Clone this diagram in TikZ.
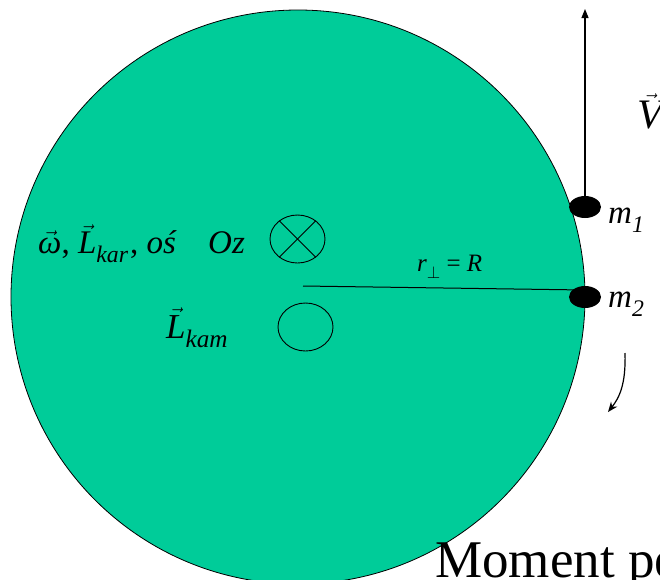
\documentclass[tikz,border=0pt]{standalone}
\usepackage{fontspec}
\setmainfont{Liberation Serif}
\usepackage{tikz}
\usetikzlibrary{
  shapes.geometric,
  arrows.meta,
  positioning
}
\definecolor{DiskGreen}{RGB}{0,204,153}
\definecolor{InkBlack}{RGB}{0,0,0}
\newcommand{\vecit}[1]{$\vec{\hbox{\itshape #1}}$}
\newcommand{\subit}[1]{\raisebox{-0.28em}{\fontsize{0.72em}{0.72em}\selectfont\itshape #1}}
\newcommand{\fsz}[1]{\fontsize{#1}{#1}\selectfont}
\tikzset{
  %%── tarcza i masy ─────────────────────────────────────────
  disk/.style = {
    circle, draw = InkBlack, line width = 0.8pt,
    fill = DiskGreen, minimum size = 574pt, inner sep = 0pt
  },
  mass/.style = {
    ellipse, fill = InkBlack, draw = none,
    minimum width = 32pt, minimum height = 22pt, inner sep = 0pt
  },
  ring/.style = {
    ellipse, draw = InkBlack, line width = 0.9pt,
    minimum width = 55pt, minimum height = 48pt, inner sep = 0pt
  },
  %%── opisy ─────────────────────────────────────────────────
  lbl/.style = {inner sep = 0pt, anchor = base west, text = InkBlack},
  %%── strzałki ──────────────────────────────────────────────
  varr/.style = {-{Triangle[length=9pt,width=7pt]}, line width = 1.2pt},
  carr/.style = {-{Stealth[length=10pt,width=8pt]}, line width = 1.2pt},
}
\begin{document}
\begin{tikzpicture}[x=1pt, y=-1pt]

  \useasboundingbox (0,0) rectangle (660,579);

  \node[disk] (disk) at (298,297) {};

  %% promień do masy m2
  \coordinate (c0)   at (303,286);
  \coordinate (rEnd) at (585,290);
  \draw[line width = 1pt] (c0) -- (rEnd);

  \node[mass] (m1) at (585,207) {};
  \node[mass] (m2) at (585,297) {};

  %% prędkość
  \coordinate (vtop) at (585,9);
  \draw[varr] (m1.center) -- (vtop);
  \node[lbl, font = \fsz{42}] (vlbl) at (637,128) {\vecit{V}};

  \node[lbl, font = \fsz{33}] (m1lbl) at (608,223) {\itshape m\subit{1}};
  \node[lbl, font = \fsz{33}] (m2lbl) at (608,307) {\itshape m\subit{2}};

  \node[lbl, font = \fsz{25}] (rlbl) at (417,271)
    {{\itshape r}\raisebox{-0.3em}{\fsz{16}$\perp$} = {\itshape R}};

  %% oś obrotu
  \node[ring] (axis) at (297.5,239) {};
  \draw[line width = 0.9pt] (axis.135) -- (axis.-45);
  \draw[line width = 0.9pt] (axis.45)  -- (axis.-135);
  \node[lbl, font = \fsz{33}] (wlbl) at (38,253)
    {\vecit{ω}, \vecit{L}\subit{kar}\kern2pt, {\itshape oś}};
  \node[lbl, font = \fsz{33}] (ozlbl) at (208,253) {\itshape Oz};

  \node[ring] (kam) at (305.5,327) {};
  \node[lbl, font = \fsz{35}] (klbl) at (166,338) {\vecit{L}\subit{kam}};

  %% kierunek obrotu
  \coordinate (ca) at (625,353);
  \coordinate (cb) at (608,412);
  \draw[carr] (ca) .. controls (626,385) and (619,398) .. (cb);

  \node[lbl, font = \fsz{53}] (mom) at (435,577) {Moment pe};

\end{tikzpicture}
\end{document}
